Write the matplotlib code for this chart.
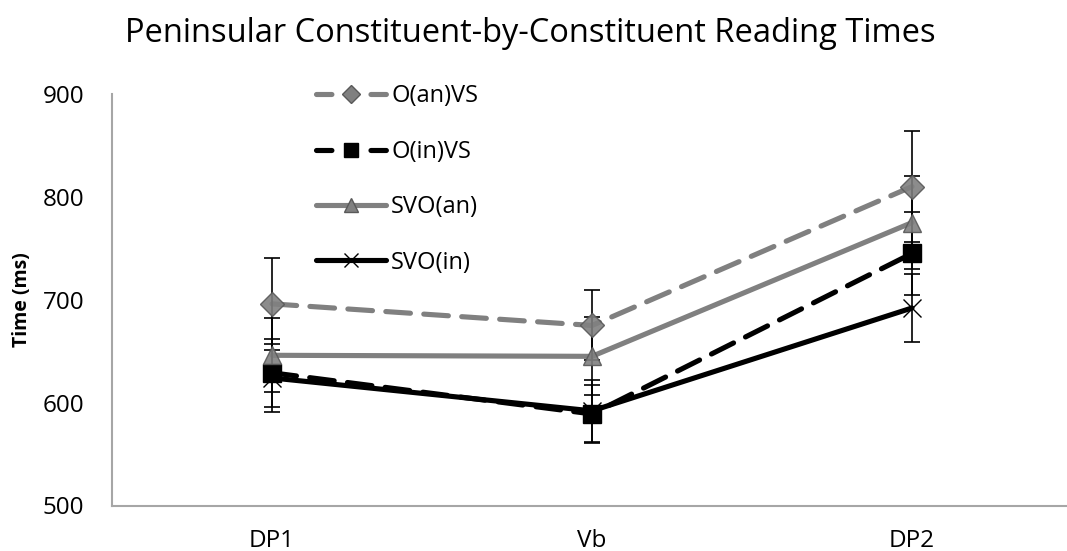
import matplotlib
matplotlib.use("Agg")
import matplotlib.pyplot as plt
from matplotlib.lines import Line2D

plt.rcParams['font.family'] = ['Open Sans', 'DejaVu Sans']

categories = ["DP1", "Vb", "DP2"]
series_names = ["O(an)VS", "O(in)VS", "SVO(an)", "SVO(in)"]
oanvs = [696, 675, 810]
oinvs = [629, 589, 745]
svoan = [646, 645, 775]
svoin = [624, 592, 692]
oanvs_err = [45, 34, 54]
oinvs_err = [33, 28, 40]
svoan_err = [36, 38, 45]
svoin_err = [33, 30, 33]
y_ticks = [500, 600, 700, 800, 900]

GRAY = '#808080'
DGRAY = '#595959'

fig = plt.figure(figsize=(10.67, 5.51), dpi=100)
ax = fig.add_axes([112/1067, 1-505.5/551, 960/1067, (505.5-94)/551])

x = list(range(len(categories)))
DASH = (0, (4.8, 2.6))
LEG_DASH = (0, (3.0, 7.6))
styles = [
    dict(color=GRAY, ls=DASH, lls=LEG_DASH, marker='D', ms=12, mfc=GRAY, mec=DGRAY, mew=1),
    dict(color='black', ls=DASH, lls=LEG_DASH, marker='s', ms=13, mfc='black', mec='black', mew=1),
    dict(color=GRAY, ls='-', lls='-', marker='^', ms=13, mfc=GRAY, mec=DGRAY, mew=1),
    dict(color='black', ls='-', lls='-', marker='x', ms=13, mfc='black', mec='black', mew=1),
]
data = [oanvs, oinvs, svoan, svoin]
errs = [oanvs_err, oinvs_err, svoan_err, svoin_err]

for name, vals, err, st in zip(series_names, data, errs, styles):
    ax.plot(x, vals, color=st['color'], ls=st['ls'], lw=3.7,
            dash_capstyle='round', solid_capstyle='round', zorder=2)
    ax.errorbar(x, vals, yerr=err, fmt='none', ecolor='black', elinewidth=1.2,
                capsize=6, capthick=1.2, zorder=3)
    ax.plot(x, vals, ls='none', marker=st['marker'], ms=st['ms'], mfc=st['mfc'],
            mec=st['mec'], mew=st['mew'], alpha=0.9 if st['color'] == GRAY else 1, zorder=4)

ax.set_xlim(-0.5, 2.5)
ax.set_ylim(500, 900)
ax.set_yticks(y_ticks)
ax.set_xticks(x)
ax.set_xticklabels(categories)
ax.tick_params(axis='both', length=0, labelsize=17.5)
ax.tick_params(axis='y', pad=20)
ax.tick_params(axis='x', pad=17)
for s in ['top', 'right']:
    ax.spines[s].set_visible(False)
for s in ['left', 'bottom']:
    ax.spines[s].set_color('#a6a6a6')
    ax.spines[s].set_linewidth(1.5)

handles = []
for st in styles:
    handles.append(Line2D([0], [0], color=st['color'], ls=st['lls'], lw=3.7,
                          dash_capstyle='round', solid_capstyle='round',
                          marker=st['marker'], ms=st['ms'] * 0.8, mfc=st['mfc'],
                          mec=st['mec'], mew=st['mew']))
leg = ax.legend(handles, series_names, loc='upper left', bbox_to_anchor=(0.19, 1.075),
                frameon=False, fontsize=17, handlelength=3.0, handletextpad=0.2,
                labelspacing=1.33, numpoints=1)

fig.text(0.497, 0.94, "Peninsular Constituent-by-Constituent Reading Times",
         ha='center', va='center', fontsize=23.5)
fig.text(22/1067, 1-300/551, "Time (ms)", rotation=90, ha='center', va='center',
         fontsize=14, fontweight='bold')

fig.savefig('out.png', dpi=100)
